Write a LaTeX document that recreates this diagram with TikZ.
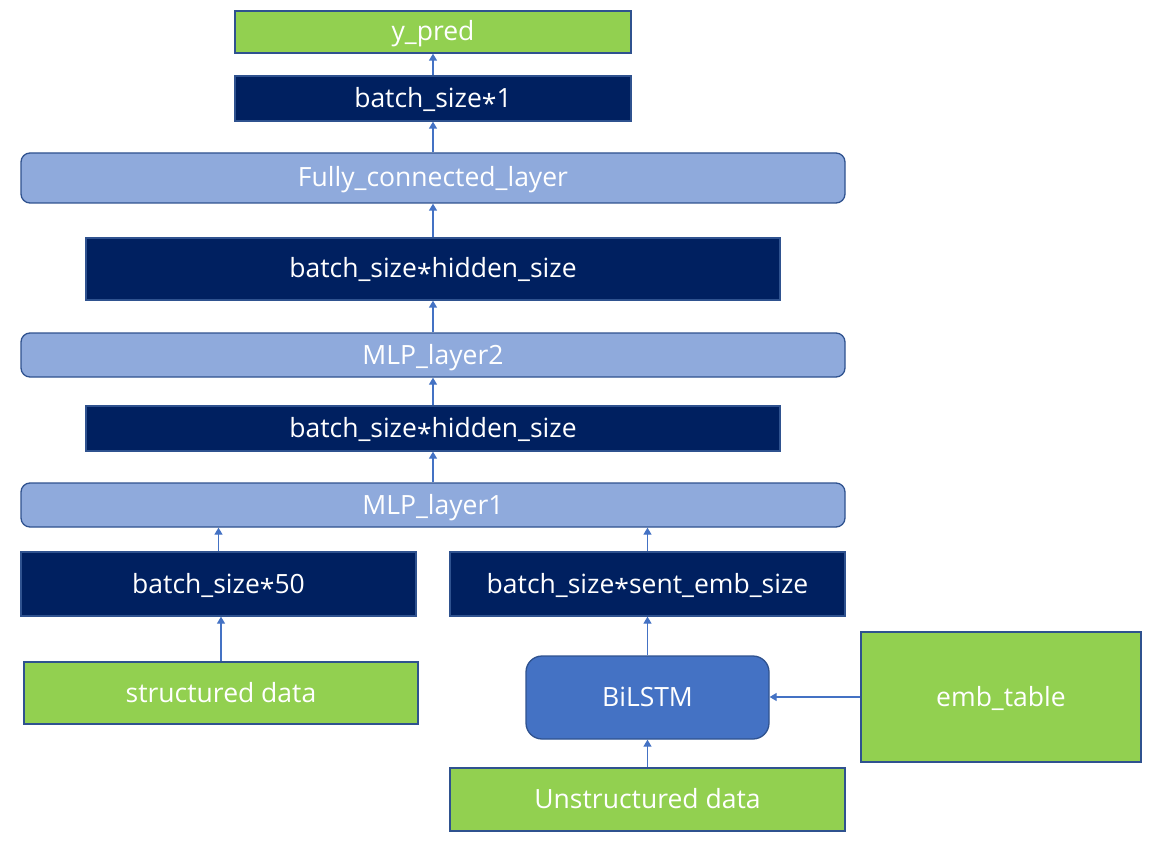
\documentclass[tikz,border=0pt]{standalone}
\usepackage{fontspec}
\setmainfont{Open Sans}
\usetikzlibrary{arrows.meta}
\definecolor{green1}{HTML}{92D050}
\definecolor{navy1}{HTML}{002060}
\definecolor{light1}{HTML}{8FAADC}
\definecolor{mid1}{HTML}{4472C4}
\definecolor{edge1}{HTML}{2F528F}
\newcommand{\st}{\raisebox{-0.22em}{*}}
\tikzset{
  base/.style={draw=edge1, line width=1.3pt, text=white, inner sep=0pt, text height=18pt, text depth=0pt, font=\fontsize{26.5}{30}\selectfont},
  greenbox/.style={base, fill=green1},
  navybox/.style={base, fill=navy1},
  layerbox/.style={base, fill=light1, rounded corners=9pt},
  lstmbox/.style={base, fill=mid1, rounded corners=16pt},
  arr/.style={draw=mid1, line width=1.3pt, -{Triangle[width=8pt,length=7pt]}}
}
\newcommand{\bx}[7]{\node[#6, minimum width={#4-#2}, minimum height={#5-#3}] (#1) at ({(#2+#4)/2},{(#3+#5)/2}) {#7};}
\begin{document}
\begin{tikzpicture}[x=1pt,y=-1pt]
\useasboundingbox (0,0) rectangle (1152,845);
\bx{ypred}{235}{11}{631}{53}{greenbox}{y\_pred}
\bx{b1}{235}{76}{631}{121}{navybox}{batch\_size\st1}
\bx{fc}{21}{153}{845}{203}{layerbox}{Fully\_connected\_layer}
\bx{h2}{86}{238}{780}{300}{navybox}{batch\_size\st hidden\_size}
\bx{mlp2}{21}{333}{845}{377}{layerbox}{MLP\_layer2}
\bx{h1}{86}{406}{780}{451}{navybox}{batch\_size\st hidden\_size}
\bx{mlp1}{21}{483}{845}{527}{layerbox}{MLP\_layer1}
\bx{b50}{21}{552}{416}{616}{navybox}{batch\_size\st50}
\bx{bse}{450}{552}{845}{616}{navybox}{batch\_size\st sent\_emb\_size}
\bx{sd}{24}{662}{418}{724}{greenbox}{structured data}
\bx{lstm}{526}{656}{769}{739}{lstmbox}{BiLSTM}
\bx{emb}{861}{632}{1141}{762}{greenbox}{emb\_table}
\bx{ud}{450}{768}{845}{831}{greenbox}{Unstructured data}
\draw[arr] (b1.north) -- (ypred.south);
\draw[arr] (fc.north -| b1.south) -- (b1.south);
\draw[arr] (h2.north) -- (h2.north |- fc.south);
\draw[arr] (mlp2.north -| h2.south) -- (h2.south);
\draw[arr] (h1.north) -- (h1.north |- mlp2.south);
\draw[arr] (mlp1.north -| h1.south) -- (h1.south);
\draw[arr] (b50.north) -- (b50.north |- mlp1.south);
\draw[arr] (bse.north) -- (bse.north |- mlp1.south);
\draw[arr] (sd.north) -- (sd.north |- b50.south);
\draw[arr] (lstm.north) -- (lstm.north |- bse.south);
\draw[arr] (ud.north) -- (ud.north |- lstm.south);
\draw[arr] (emb.west) -- (emb.west -| lstm.east);
\end{tikzpicture}
\end{document}
